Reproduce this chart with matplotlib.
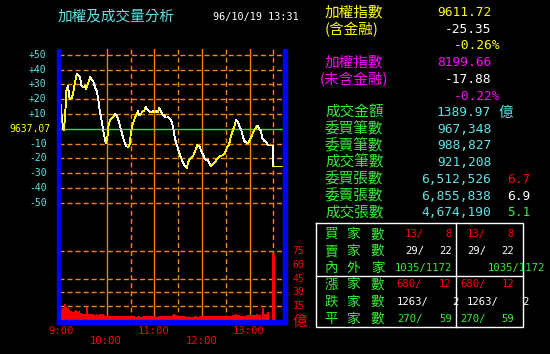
import numpy as np
import matplotlib.pyplot as plt
from matplotlib.collections import LineCollection
from matplotlib.patches import Rectangle
from matplotlib.lines import Line2D
from matplotlib.transforms import blended_transform_factory as blend

plt.rcParams["font.family"]=["Noto Sans CJK TC","DejaVu Sans"]
plt.rcParams["lines.scale_dashes"]=False

# --- data ---
prevclose="9637.07"
idx_min=[0,1,3,5,6,8,9,11,13,16,
         18,20,22,24,26,28,30,32,34,37,
         39,41,43,45,47,49,51,53,55,58,
         59,61,62,64,66,68,70,72,74,77,
         79,81,83,85,87,89,90,92,95,97,
         99,101,103,105,107,109,111,113,116,118,
         120,122,124,126,128,130,132,134,137,139,
         141,143,145,147,149,151,153,156,158,160,
         161,162,164,166,168,170,172,174,177,179,
         181,183,185,187,189,191,193,196,198,200,
         202,204,206,208,210,212,214,216,219,221,
         223,225,227,229,231,233,235,238,240,242,
         244,246,248,250,252,254,256,258,261,263,
         265,267,269,270]
idx_chg=[30,20,8,0,-1,15,26,29,20,21,
         26,32,37,36,35,29,28,29,27,32,
         35,33,32,28,26,21,12,7,0,-8,
         -10,-4,2,6,7,8,10,9,7,1,
         -3,-7,-10,-12,-12,-10,-4,2,7,9,
         12,9,10,12,12,15,13,12,11,12,
         11,12,11,14,12,10,9,8,8,7,
         6,2,-4,-9,-12,-16,-19,-23,-25,-26,
         -27,-23,-21,-20,-19,-17,-14,-11,-12,-15,
         -17,-20,-21,-21,-23,-25,-24,-23,-21,-20,
         -19,-18,-18,-17,-15,-12,-11,-6,-1,2,
         6,5,2,0,-4,-8,-9,-10,-8,-6,
         -3,-1,1,2,0,-1,-6,-8,-9,-11,
         -11,-11,-11,-25.35]
# volume (億) per 2-minute bin from 9:00
vol=[20,12,13,17,14,13,11,10,9,10,11,9,10,8,7,7,6,14,7,6.5,
     6,6,5.5,6,5.5,6,7,6.5,5.5,4.5,4.5,4.5,4,4.5,4,4,4.5,4,4,4,
     4.5,4,4,4,4.5,4,4,4,3.5,4,4,3.5,4,4,4,3.5,4,4,4.5,4,
     4,3.5,4,4,4,4,4,3.5,4,4,4.5,5.5,6,5,4.5,4.5,4,4,4,4,
     3.5,4,3.5,3,3.5,4,4,3.5,4,4,4,4,4.5,4,4,4.5,4,4,4,4,
     4,4,4,4,4.5,4,4,4.5,4.5,5,5,6,5.5,5,4.5,4.5,4.5,4.5,5,5,
     5.5,5.5,5,5.5,6,5.5,5.5,0,13,7,7,8.5]
vol_start=np.arange(len(vol))*2
close_min=270
close_vol=73
chg_ticks=[50,40,30,20,10,-10,-20,-30,-40,-50]
vol_grid=[75,45,30,15]
vol_ticks=[75,60,45,30,15]
hour_min=[0,60,120,180,240]
hour_lbl=["9:00","10:00","11:00","12:00","13:00"]
half_min=[90,150,210,270]

taiex=["9611.72","-25.35","-0.26%"]
exfin=["8199.66","-17.88","-0.22%"]
amount="1389.97"
stat_lbl=["委買筆數","委賣筆數","成交筆數","委買張數","委賣張數","成交張數"]
stat_val=[967348,988827,921208,6512526,6855838,4674190]
ratio_val=[6.7,6.9,5.1]
tbl_lbl=["買家數","賣家數","內外家","漲家數","跌家數","平家數"]
tbl_val=[(13,8),(29,22),(1035,1172),(680,12),(1263,2),(270,59)]

ORANGE="#FF8000"; BLUE="#0000FF"; CYAN="#5FE3E3"; YEL="#FFFF00"
MAG="#FF00FF"; GRN="#33EE33"; RED="#FF0000"; WHITE="#FFFFFF"
MONO="DejaVu Sans Mono"

W,H=550,354
def fx(x): return x/W
def fy(y): return 1-y/H

fig=plt.figure(figsize=(5.5,3.54),dpi=100,facecolor="black")
xmax=282.5
ax=fig.add_axes([fx(59.3),fy(320),(283.3-59.3)/W,(320-49)/H])
ax.set_xlim(0,xmax)
ax.set_ylim(-129.4,54.0)
ax.set_axis_off()
ax2=ax.twinx()
ax2.set_ylim(0,294.6)
ax2.set_axis_off()

for v in chg_ticks:
    ax.axhline(v,color=ORANGE,lw=1,dashes=(3.6,2.2),zorder=1)
for v in vol_grid:
    ax2.axhline(v,color=ORANGE,lw=1,dashes=(3.6,2.2),zorder=1)
for m in hour_min:
    ax.axvline(m,color=ORANGE,lw=1,zorder=1)
for m in half_min:
    ax.axvline(m,color=ORANGE,lw=1,dashes=(3.6,2.2),zorder=1)
ax.axhline(0,color="#00FF00",lw=1,zorder=2)

# index line: yellow when rising, white when falling
pts=np.column_stack([idx_min,idx_chg])
segs=np.stack([pts[:-1],pts[1:]],axis=1)
cols=[WHITE if b<a else YEL for a,b in zip(idx_chg[:-1],idx_chg[1:])]
ax.add_collection(LineCollection(segs,colors=cols,linewidths=0.6,
                                 antialiaseds=False,zorder=3))
ax.hlines(idx_chg[-1],close_min,xmax,color=YEL,lw=0.6,antialiased=False,zorder=3)

ax2.bar(vol_start,vol,width=2,align="edge",color=RED,linewidth=0,zorder=2)
ax2.vlines(close_min,0,close_vol,color=RED,lw=1,antialiased=False,zorder=3)

# blue frame
for r in [(57,49,2.5,274.5),(283.3,49,3.7,274.5),(57,320,230,3.5)]:
    fig.add_artist(Rectangle((fx(r[0]),fy(r[1]+r[3])),r[2]/W,r[3]/H,
                             color=BLUE,transform=fig.transFigure,zorder=5))

# axis labels
tl=blend(fig.transFigure,ax.transData)
for v in chg_ticks:
    fig.text(fx(46.5),v,f"{v:+d}",transform=tl,ha="right",va="center",
             color=CYAN,family=MONO,fontsize=7)
fig.text(fx(51),0,prevclose,transform=tl,ha="right",va="center",
         color=YEL,family=MONO,fontsize=7)
tv=blend(fig.transFigure,ax2.transData)
for v in vol_ticks:
    fig.text(fx(292.5),v,str(v),transform=tv,ha="left",va="center",
             color=RED,family=MONO,fontsize=7)
fig.text(fx(293),fy(321.5),"億",ha="left",va="center",color=RED,fontsize=10.5)
tx=blend(ax.transData,fig.transFigure)
for i,(m,s) in enumerate(zip(hour_min,hour_lbl)):
    yy=331 if i%2==0 else 341
    fig.text(m+2.5 if i==0 else m-1,fy(yy),s,transform=tx,ha="center",va="center",
             color=RED,family=MONO,fontsize=7.6)

fig.text(fx(58),fy(16),"加權及成交量分析",ha="left",va="center",color=CYAN,fontsize=10.5)
fig.text(fx(213),fy(17),"96/10/19 13:31",ha="left",va="center",color=WHITE,
         family=MONO,fontsize=7.3)

# right panel
def lab(x,y,s,c,**kw):
    fig.text(fx(x),fy(y),s,ha="left",va="center",color=c,fontsize=10.5,**kw)
def num(x,y,s,c,ha="right",size=9.3):
    fig.text(fx(x),fy(y),s,ha=ha,va="center",color=c,family=MONO,fontsize=size)

rows=[12.7,29.3,45.7,62.3,79.3,96,112.7,129.3,145.7,162.3,179.3,196,212.7]
lab(325,rows[0],"加權指數",YEL)
lab(325,rows[1],"(含金融)",YEL)
num(491,rows[0],taiex[0],YEL)
num(491,rows[1],taiex[1],WHITE)
num(500,rows[2],taiex[2],YEL)
lab(325,rows[3],"加權指數",MAG)
lab(320,rows[4],"(未含金融)",MAG)
num(491,rows[3],exfin[0],MAG)
num(491,rows[4],exfin[1],WHITE)
num(500,rows[5],exfin[2],MAG)
lab(325,rows[6],"成交金額",GRN)
num(491,rows[6],amount,CYAN)
lab(499,rows[6],"億",CYAN)
for i,(s,v) in enumerate(zip(stat_lbl,stat_val)):
    lab(325,rows[7+i],s,GRN)
    num(491,rows[7+i],f"{v:,}",CYAN)
for i,(r,c) in enumerate(zip(ratio_val,[RED,WHITE,GRN])):
    num(507.5,rows[10+i],f"{r:.1f}",c,ha="left")

# bottom table
box=dict(color=WHITE,lw=1,transform=fig.transFigure)
for xs,ys in [([315.7,523.3,523.3,315.7,315.7],[223.3,223.3,327.3,327.3,223.3]),
              ([315.7,523.3],[275.7,275.7]),([455.7,455.7],[223.3,327.3])]:
    fig.add_artist(Line2D([fx(x) for x in xs],[fy(y) for y in ys],**box))
trow=[234.3,251,267.7,284.3,301.7,319]
tcol=[RED,WHITE,GRN,RED,WHITE,GRN]
l1=[405,405,None,396.7,396.7,396.7]
r1=[451.7,451.7,451.7,451.7,459,451.7]
l2=[466.7,466.7,None,460,467,460]
r2=[514,514,545,514,529,514]
for i,(s,(a,b)) in enumerate(zip(tbl_lbl,tbl_val)):
    for ch,cx in zip(s,[331.5,353,377.5]):
        fig.text(fx(cx),fy(trow[i]),ch,ha="center",va="center",color=GRN,fontsize=9.8)
    for L,R in [(l1[i],r1[i]),(l2[i],r2[i])]:
        if L is None:
            num(R,trow[i],f"{a}/{b}",tcol[i],size=7.6)
        else:
            num(L,trow[i],f"{a}/",tcol[i],ha="left",size=7.6)
            num(R,trow[i],f"{b}",tcol[i],size=7.6)

fig.savefig("out.png",dpi=100,facecolor="black")
